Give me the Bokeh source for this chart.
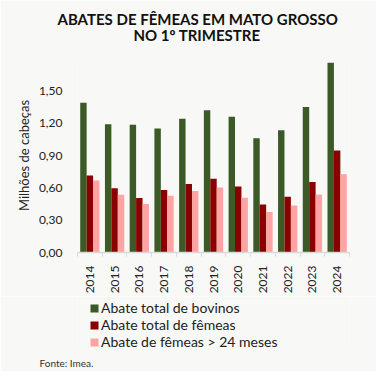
from bokeh.plotting import figure
from bokeh.layouts import column
from bokeh.models import ColumnDataSource, FixedTicker, Legend, LegendItem, Range1d, Title
from bokeh.transform import dodge
from bokeh.embed import file_html
from bokeh.resources import INLINE
import math

years = [2014, 2015, 2016, 2017, 2018, 2019, 2020, 2021, 2022, 2023, 2024]
abate_total_bovinos = [1.39, 1.19, 1.185, 1.15, 1.24, 1.32, 1.26, 1.06, 1.135, 1.35, 1.76]
abate_total_femeas = [0.715, 0.595, 0.505, 0.58, 0.635, 0.685, 0.613, 0.446, 0.518, 0.655, 0.946]
abate_femeas_24 = [0.667, 0.536, 0.449, 0.527, 0.571, 0.604, 0.509, 0.375, 0.435, 0.539, 0.726]

y_ticks = [0.0, 0.3, 0.6, 0.9, 1.2, 1.5]
y_tick_labels = ["0,00", "0,30", "0,60", "0,90", "1,20", "1,50"]
x_tick_labels = [str(y) for y in years]

series_names = ["Abate total de bovinos", "Abate total de fêmeas", "Abate de fêmeas > 24 meses"]
colors = ["#3b5a26", "#8b0000", "#ffa3a3"]

src = ColumnDataSource(dict(year=years, a=abate_total_bovinos, b=abate_total_femeas, c=abate_femeas_24))

BG = "#f8f8f6"
FONT = "Lato"

p = figure(width=376, height=296, output_backend="svg", toolbar_location=None, title=None,
           x_range=Range1d(2013.5, 2024.5), y_range=Range1d(0, 1.8),
           min_border_left=77, min_border_right=27, min_border_top=58, min_border_bottom=36)
p.background_fill_color = BG
p.border_fill_color = BG
p.outline_line_color = None
p.grid.grid_line_color = None

w = 0.26
r1 = p.vbar(x=dodge("year", -0.26, range=p.x_range), top="a", width=w, source=src, fill_color=colors[0], line_color=None)
r2 = p.vbar(x=dodge("year", 0.0, range=p.x_range), top="b", width=w, source=src, fill_color=colors[1], line_color=None)
r3 = p.vbar(x=dodge("year", 0.26, range=p.x_range), top="c", width=w, source=src, fill_color=colors[2], line_color=None)

# x axis
p.xaxis.ticker = FixedTicker(ticks=years, minor_ticks=[y - 0.5 for y in years] + [years[-1] + 0.5])
p.xaxis.major_label_overrides = {y: l for y, l in zip(years, x_tick_labels)}
p.xaxis.major_label_orientation = math.pi / 2
p.xaxis.major_tick_line_color = None
p.xaxis.major_tick_out = 0
p.xaxis.major_tick_in = 0
p.xaxis.minor_tick_line_color = "#d9d9d9"
p.xaxis.minor_tick_out = 4
p.xaxis.minor_tick_in = 0
p.xaxis.axis_line_color = "#d9d9d9"
p.xaxis.axis_line_width = 1.5
p.xaxis.major_label_standoff = 9
p.xaxis.major_label_text_font = FONT
p.xaxis.major_label_text_font_size = "12px"
p.xaxis.major_label_text_color = "#222222"

# y axis
p.yaxis.ticker = FixedTicker(ticks=y_ticks)
p.yaxis.major_label_overrides = {t: l for t, l in zip(y_ticks, y_tick_labels)}
p.yaxis.axis_line_color = None
p.yaxis.major_tick_line_color = None
p.yaxis.minor_tick_line_color = None
p.yaxis.major_tick_out = 0
p.yaxis.major_label_standoff = 15
p.yaxis.major_label_text_font = FONT
p.yaxis.major_label_text_font_size = "12px"
p.yaxis.major_label_text_color = "#222222"
p.yaxis.axis_label = "Milhões de cabeças"
p.yaxis.axis_label_text_font = FONT
p.yaxis.axis_label_text_font_style = "normal"
p.yaxis.axis_label_text_font_size = "13px"
p.yaxis.axis_label_text_color = "#222222"
p.yaxis.axis_label_standoff = 4

# titles (line 2 added first: nearest to the frame)
p.add_layout(Title(text="NO 1º TRIMESTRE", align="left", offset=56, standoff=26, vertical_align="top",
                   text_font=FONT, text_font_style="bold", text_font_size="15px",
                   text_color="#111111"), "above")
p.add_layout(Title(text="ABATES DE FÊMEAS EM MATO GROSSO", align="left", offset=-20, standoff=-31,
                   vertical_align="bottom",
                   text_font=FONT, text_font_style="bold", text_font_size="15px",
                   text_color="#111111"), "above")

# lower panel: legend and source note
q = figure(width=376, height=75, output_backend="svg", toolbar_location=None, title=None,
           x_axis_location=None, y_axis_location=None, min_border=0,
           x_range=Range1d(0, 1), y_range=Range1d(10, 11))
q.background_fill_color = BG
q.border_fill_color = BG
q.outline_line_color = None
q.grid.grid_line_color = None

# legend keys reuse the series data (hidden renderers, only their legend swatches are shown)
k1 = q.vbar(x="year", top="a", width=w, source=src, fill_color=colors[0], line_color=None, visible=False)
k2 = q.vbar(x="year", top="b", width=w, source=src, fill_color=colors[1], line_color=None, visible=False)
k3 = q.vbar(x="year", top="c", width=w, source=src, fill_color=colors[2], line_color=None, visible=False)

legend = Legend(items=[LegendItem(label=n, renderers=[r]) for n, r in zip(series_names, [k1, k2, k3])],
                location=(12, 1), orientation="vertical",
                glyph_width=10, glyph_height=10, label_height=16, label_standoff=2,
                spacing=0, padding=0, margin=0,
                label_text_font=FONT, label_text_font_size="14px", label_text_color="#222222",
                background_fill_alpha=0, border_line_color=None,
                inactive_fill_alpha=0)
q.add_layout(legend, "center")

q.add_layout(Title(text="Fonte: Imea.", align="left", offset=-38, standoff=6,
                   text_font=FONT, text_font_style="normal", text_font_size="10px",
                   text_color="#333333"), "below")

layout = column(p, q, spacing=0)
open("out.html", "w").write(file_html(layout, INLINE))
